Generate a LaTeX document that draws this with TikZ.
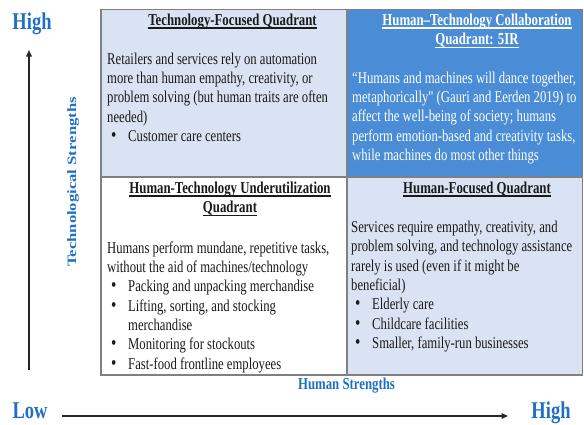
\documentclass[tikz,border=0pt]{standalone}
\usepackage{fontspec}
\setmainfont{Liberation Serif}
\newfontfamily\plainserif{Liberation Serif}
\usetikzlibrary{arrows.meta}
\definecolor{lightq}{HTML}{DAE3F3}
\definecolor{darkq}{HTML}{4A8DD6}
\definecolor{labelblue}{HTML}{1F6FC5}
\definecolor{gridgray}{HTML}{808080}
\definecolor{inktext}{HTML}{1A1A1A}
\newcommand{\vstretch}[1]{\scalebox{1}[1.3]{#1}}
\newcommand{\blt}{\makebox[21pt][l]{\hspace*{4pt}\scalebox{1.2}{\textbullet}}}
\newcommand{\hdul}[1]{\leavevmode\sbox0{#1}\rlap{\rule[-2.8pt]{\wd0}{0.9pt}}\usebox0}
\newcommand{\straightq}{{\plainserif"}}
\tikzset{
  bodytext/.style={anchor=base west, inner sep=0pt, text=inktext,
    font=\fontsize{12.7}{14.9}\selectfont},
  headtext/.style={anchor=base, inner sep=0pt, text=inktext,
    font=\fontsize{12.8}{14.9}\selectfont\bfseries},
  bluelab/.style={inner sep=0pt, text=labelblue, font=\fontsize{12.8}{14}\selectfont\bfseries},
  bigblue/.style={anchor=base, inner sep=0pt, text=labelblue, font=\fontsize{18.5}{20}\selectfont\bfseries},
  gridline/.style={draw=gridgray, line width=1.5pt},
  axisarrow/.style={draw=black!85, line width=1.5pt, -{Triangle[length=6.5pt,width=5.5pt]}},
}
\begin{document}
\begin{tikzpicture}[x=1pt,y=-1pt]
\useasboundingbox (0,0) rectangle (584,424);
% quadrants
\fill[lightq] (101,9.5) rectangle (347,177);
\fill[darkq] (347,9.5) rectangle (582.5,177);
\fill[white] (101,177) rectangle (347,375);
\fill[lightq] (347,177) rectangle (582.5,375);
\draw[gridline] (101,9.5) rectangle (582.5,375);
\draw[gridline] (347,9.5) -- (347,375);
\draw[gridline] (101,177) -- (582.5,177);
% headings
\node[headtext] (tlh) at (232.5,25) {\vstretch{\hdul{Technology-Focused Quadrant}}};
\node[headtext, text=white] (trh) at (477,25) {\vstretch{\parbox[t]{230pt}{\centering
  \hdul{Human--Technology Collaboration}\\ \hdul{Quadrant: 5IR}}}};
\node[headtext] (blh) at (230,193) {\vstretch{\parbox[t]{240pt}{\centering
  \hdul{Human-Technology Underutilization}\\ \hdul{Quadrant}}}};
\node[headtext] (brh) at (477,193) {\vstretch{\hdul{Human-Focused Quadrant}}};
% bodies
\node[bodytext] (tlb) at (107,64) {\vstretch{\parbox[t]{300pt}{\raggedright
  Retailers and services rely on automation\\
  more than human empathy, creativity, or\\
  problem solving (but human traits are often\\
  needed)\\
  \blt Customer care centers}}};
\node[bodytext, text=white] (trb) at (352,83) {\vstretch{\parbox[t]{300pt}{\raggedright
  “Humans and machines will dance together,\\
  metaphorically\straightq{} (Gauri and Eerden 2019) to\\
  affect the well-being of society; humans\\
  perform emotion-based and creativity tasks,\\
  while machines do most other things}}};
\node[bodytext] (blb) at (107,253) {\vstretch{\parbox[t]{300pt}{\raggedright
  Humans perform mundane, repetitive tasks,\\
  without the aid of machines/technology\\
  \blt Packing and unpacking merchandise\\
  \blt Lifting, sorting, and stocking\\
  \hspace*{21pt}merchandise\\
  \blt Monitoring for stockouts\\
  \blt Fast-food frontline employees}}};
\node[bodytext] (brb) at (351,232.5) {\vstretch{\parbox[t]{300pt}{\raggedright
  Services require empathy, creativity, and\\
  problem solving, and technology assistance\\
  rarely is used (even if it might be\\
  beneficial)\\
  \blt Elderly care\\
  \blt Childcare facilities\\
  \blt Smaller, family-run businesses}}};
% axes
\coordinate (ybot) at (29,370);
\coordinate (ytop) at (29,50);
\coordinate (xleft) at (62,416);
\coordinate (xright) at (508,416);
\draw[axisarrow] (ybot) -- (ytop);
\draw[axisarrow] (xleft) -- (xright);
\node[bigblue] (yhigh) at (32,29) {\vstretch{High}};
\node[bigblue] (xlow) at (30,418) {\vstretch{Low}};
\node[bigblue] (xhigh) at (551,418) {\vstretch{High}};
\node[bluelab] (ylab) at (73,182) {\vstretch{\rotatebox{90}{Technological Strengths}}};
\node[bluelab, anchor=base] (xlab) at (346.5,389) {\vstretch{Human Strengths}};
\end{tikzpicture}
\end{document}
